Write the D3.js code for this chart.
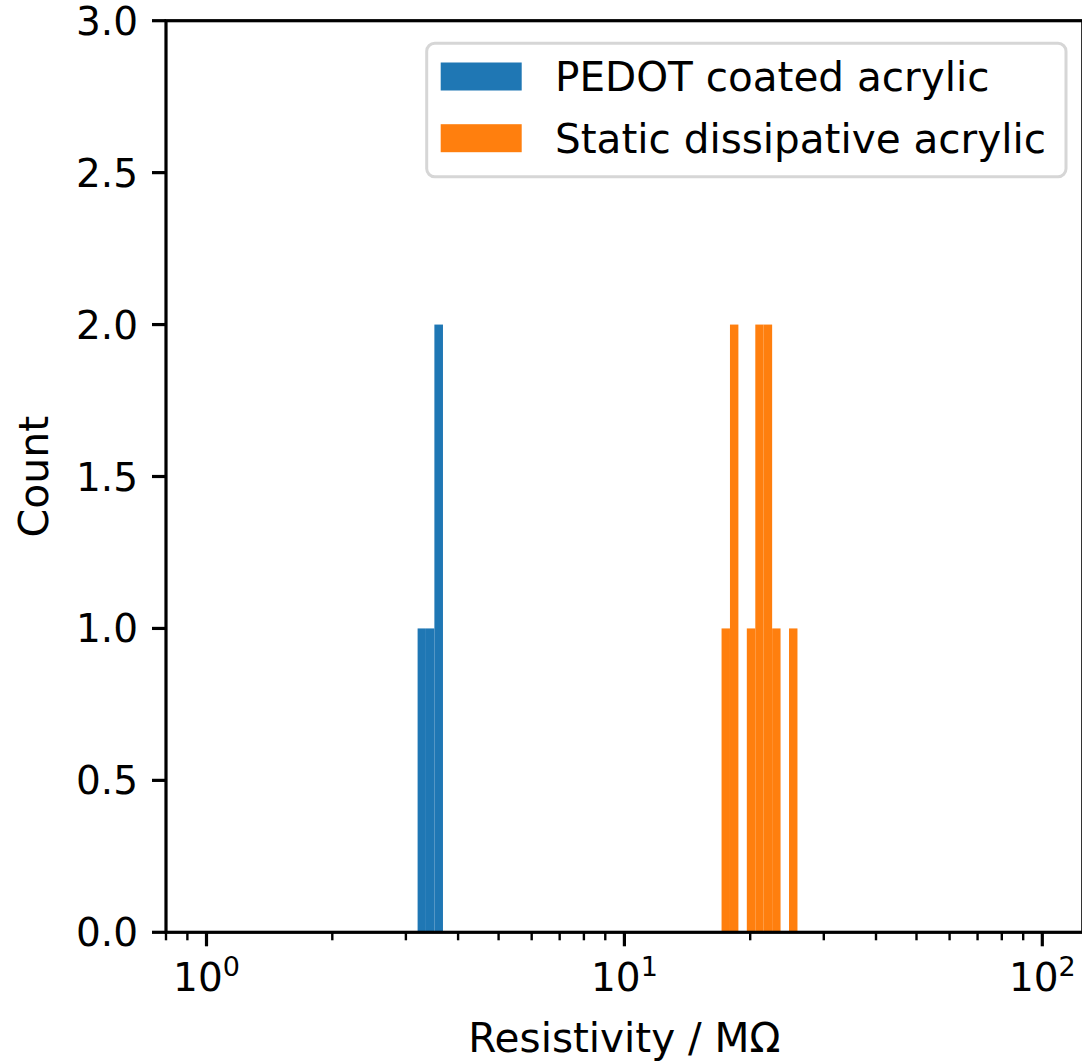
<!DOCTYPE html>
<html>
<head>
<meta charset="utf-8">
<script src="https://cdn.jsdelivr.net/npm/d3@7"></script>
<style>
  body { margin: 0; background: #fff; }
  text { font-family: "DejaVu Sans", sans-serif; fill: #000; }
</style>
</head>
<body>
<div id="chart"></div>
<script>
var width = 1082,
    height = 1063;

// histogram bins (log spaced) and counts
var pedotEdges = [3.20, 3.35, 3.51, 3.68];
var pedotCounts = [1, 1, 2];
var staticEdges = [17.08, 17.89, 18.74, 19.63, 20.57, 21.54, 22.57, 23.64, 24.77, 25.95];
var staticCounts = [1, 2, 0, 1, 2, 2, 1, 0, 1];

var seriesNames = ["PEDOT coated acrylic", "Static dissipative acrylic"];
var seriesColors = ["#1f77b4", "#ff7f0e"];

var xDomain = [0.8, 125];
var yTicks = [0, 0.5, 1, 1.5, 2, 2.5, 3];
var xMajor = [1, 10, 100];
var xMinor = [0.8, 0.9, 2, 3, 4, 5, 6, 7, 8, 9, 20, 30, 40, 50, 60, 70, 80, 90];

var axLeft = 166, axRight = 1082.8, axTop = 20.7, axBottom = 932.3;

var svg = d3.select("#chart")
  .append("svg")
  .attr("width", width)
  .attr("height", height);

var x = d3.scaleLog().domain(xDomain).range([axLeft, axRight]);
var y = d3.scaleLinear().domain([0, 3]).range([axBottom, axTop]);

function toBins(edges, counts) {
  return counts.map(function(c, i) {
    return { x0: edges[i], x1: edges[i + 1], count: c };
  }).filter(function(d) { return d.count > 0; });
}

var series = [toBins(pedotEdges, pedotCounts), toBins(staticEdges, staticCounts)];

var plot = svg.append("g");
series.forEach(function(bins, s) {
  plot.selectAll("rect.s" + s)
    .data(bins)
    .enter()
    .append("rect")
    .attr("class", "s" + s)
    .attr("x", function(d) { return x(d.x0); })
    .attr("width", function(d) { return x(d.x1) - x(d.x0); })
    .attr("y", function(d) { return y(d.count); })
    .attr("height", function(d) { return y(0) - y(d.count); })
    .attr("fill", seriesColors[s]);
});

// spines
svg.append("rect")
  .attr("x", axLeft).attr("y", axTop)
  .attr("width", axRight - axLeft).attr("height", axBottom - axTop)
  .attr("fill", "none")
  .attr("stroke", "#000")
  .attr("stroke-width", 3.2);

// y axis
var yAxis = svg.append("g");
yAxis.selectAll("line")
  .data(yTicks)
  .enter()
  .append("line")
  .attr("x1", axLeft - 14).attr("x2", axLeft)
  .attr("y1", function(d) { return y(d); })
  .attr("y2", function(d) { return y(d); })
  .attr("stroke", "#000").attr("stroke-width", 3.2);
yAxis.selectAll("text")
  .data(yTicks)
  .enter()
  .append("text")
  .attr("x", axLeft - 28)
  .attr("y", function(d) { return y(d); })
  .attr("dy", "0.36em")
  .attr("text-anchor", "end")
  .attr("font-size", "39px")
  .text(function(d) { return d.toFixed(1); });

// x axis
var xAxis = svg.append("g");
xAxis.selectAll("line.major")
  .data(xMajor)
  .enter()
  .append("line")
  .attr("class", "major")
  .attr("x1", function(d) { return x(d); })
  .attr("x2", function(d) { return x(d); })
  .attr("y1", axBottom).attr("y2", axBottom + 14)
  .attr("stroke", "#000").attr("stroke-width", 3.2);
xAxis.selectAll("line.minor")
  .data(xMinor)
  .enter()
  .append("line")
  .attr("class", "minor")
  .attr("x1", function(d) { return x(d); })
  .attr("x2", function(d) { return x(d); })
  .attr("y1", axBottom).attr("y2", axBottom + 8)
  .attr("stroke", "#000").attr("stroke-width", 2.4);
var xl = xAxis.selectAll("text")
  .data(xMajor)
  .enter()
  .append("text")
  .attr("x", function(d) { return x(d); })
  .attr("y", 991)
  .attr("text-anchor", "middle")
  .attr("font-size", "39px");
xl.append("tspan").text("10");
xl.append("tspan")
  .attr("font-size", "27px")
  .attr("dy", -15)
  .text(function(d) { return Math.round(Math.log10(d)); });

// axis titles
svg.append("text")
  .attr("x", (axLeft + axRight) / 2)
  .attr("y", 1052)
  .attr("text-anchor", "middle")
  .attr("font-size", "40.5px")
  .text("Resistivity / M\u03A9");
svg.append("text")
  .attr("transform", "translate(48," + ((axTop + axBottom) / 2) + ") rotate(-90)")
  .attr("text-anchor", "middle")
  .attr("font-size", "41px")
  .text("Count");

// legend
var legend = svg.append("g");
legend.append("rect")
  .attr("x", 426.7).attr("y", 43.3)
  .attr("width", 639.3).attr("height", 133.4)
  .attr("rx", 8)
  .attr("fill", "#fff").attr("fill-opacity", 0.8)
  .attr("stroke", "#d6d6d6").attr("stroke-width", 3);
seriesNames.forEach(function(name, i) {
  var cy = 76.5 + i * 61.7;
  legend.append("rect")
    .attr("x", 440.7).attr("y", cy - 14)
    .attr("width", 81).attr("height", 28)
    .attr("fill", seriesColors[i]);
  legend.append("text")
    .attr("x", 555)
    .attr("y", cy)
    .attr("dy", "0.36em")
    .attr("font-size", "40.5px")
    .text(name);
});
</script>
</body>
</html>
